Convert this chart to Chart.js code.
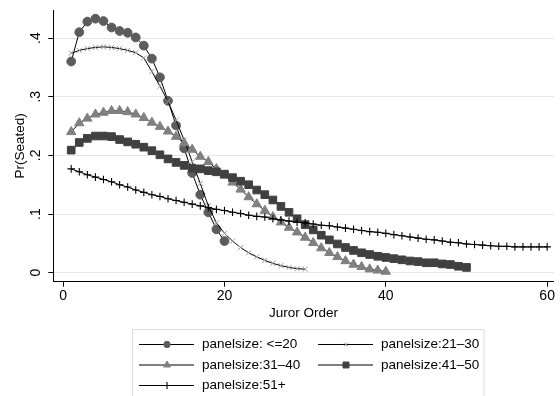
<!DOCTYPE html>
<html>
<head>
<meta charset="utf-8">
<title>Pr(Seated) by Juror Order</title>
<script src="https://cdn.jsdelivr.net/npm/chart.js"></script>
<style>
  html, body { margin: 0; padding: 0; background: #fff; }
  #wrap { width: 560px; height: 396px; }
</style>
</head>
<body>
<div id="wrap"><canvas id="chart" width="560" height="396"></canvas></div>
<script>
'use strict';

/* ── DATA ── */
const jurorOrder = [
  1, 2, 3, 4, 5, 6, 7, 8, 9, 10, 11, 12, 13, 14, 15, 16, 17, 18, 19, 20,
  21, 22, 23, 24, 25, 26, 27, 28, 29, 30, 31, 32, 33, 34, 35, 36, 37, 38, 39, 40,
  41, 42, 43, 44, 45, 46, 47, 48, 49, 50, 51, 52, 53, 54, 55, 56, 57, 58, 59, 60,
];

const seriesLabels = [
  'panelsize: <=20', 'panelsize:21\u201330', 'panelsize:31\u201340',
  'panelsize:41\u201350', 'panelsize:51+',
];

const pUpTo20 = [
  .360, .410, .428, .433, .429, .418, .412, .409, .401, .387,
  .365, .333, .293, .251, .212, .170, .133, .103, .074, .054,
];

const p21to30 = [
  .374, .379, .382, .384, .385, .384, .382, .379, .375, .366,
  .343, .318, .292, .260, .226, .189, .152, .114, .085, .067,
  .054, .043, .034, .027, .021, .016, .012, .009, .007, .006,
];

const p31to40 = [
  .240, .255, .263, .270, .273, .276, .276, .274, .270, .264,
  .256, .249, .241, .232, .221, .210, .198, .189, .177, .166,
  .154, .142, .129, .117, .106, .095, .086, .077, .069, .060,
  .051, .042, .034, .027, .020, .014, .010, .006, .004, .002,
];

const p41to50 = [
  .209, .222, .229, .233, .233, .232, .227, .223, .219, .214,
  .208, .201, .194, .188, .183, .178, .177, .174, .172, .168,
  .162, .156, .150, .141, .133, .124, .113, .103, .092, .082,
  .073, .064, .056, .049, .043, .038, .034, .031, .028, .026,
  .024, .022, .020, .019, .017, .017, .015, .014, .011, .009,
];

const p51plus = [
  .177, .172, .167, .163, .159, .155, .150, .146, .141, .137,
  .133, .130, .126, .123, .120, .117, .114, .111, .108, .106,
  .103, .101, .098, .096, .095, .092, .090, .088, .086, .085,
  .083, .081, .080, .078, .076, .074, .072, .070, .069, .067,
  .065, .063, .061, .059, .057, .056, .054, .052, .051, .049,
  .048, .047, .046, .045, .045, .044, .044, .044, .044, .044,
];

const xTicks = [0, 20, 40, 60];
const yTicks = [0, .1, .2, .3, .4];
const yTickLabels = ['0', '.1', '.2', '.3', '.4'];

/* ── STYLES ── */
const FONT = '"Liberation Sans", Arial, Helvetica, sans-serif';
const markers = [
  { style: 'circle',   radius: 4.4, fill: '#5c5c5c', stroke: '#5c5c5c', lw: 1,   legendR: 3.2 },
  { style: 'crossRot', radius: 3.6, fill: '#9a9a9a', stroke: '#9a9a9a', lw: 1,   legendR: 2.6 },
  { style: 'triangle', radius: 5.4, fill: '#808080', stroke: '#808080', lw: 1,   legendR: 4.0 },
  { style: 'rect',     radius: 5.4, fill: '#404040', stroke: '#404040', lw: 1,   legendR: 4.2 },
  { style: 'cross',    radius: 3.8, fill: '#000',    stroke: '#000',    lw: 1.1, legendR: 3.6 },
];

const seriesValues = [pUpTo20, p21to30, p31to40, p41to50, p51plus];

const datasets = seriesValues.map((vals, i) => ({
  label: seriesLabels[i],
  data: vals.map((v, k) => ({ x: jurorOrder[k], y: v })),
  borderColor: '#000',
  borderWidth: 1,
  tension: 0,
  fill: false,
  pointStyle: markers[i].style,
  pointRadius: markers[i].radius,
  pointBackgroundColor: markers[i].fill,
  pointBorderColor: markers[i].stroke,
  pointBorderWidth: markers[i].lw,
  order: 4 - i,
}));

/* ── CUSTOM DRAWING: y labels, titles, legend ── */
const decorPlugin = {
  id: 'decor',
  afterDraw(chart) {
    const ctx = chart.ctx;
    const ys = chart.scales.y;
    const area = chart.chartArea;

    ctx.save();
    ctx.fillStyle = '#000';

    /* y tick labels, rotated like Stata */
    ctx.font = '14px ' + FONT;
    ctx.textAlign = 'center';
    ctx.textBaseline = 'middle';
    yTicks.forEach((t, i) => {
      const py = ys.getPixelForValue(t);
      ctx.save();
      ctx.translate(36, py);
      ctx.rotate(-Math.PI / 2);
      ctx.fillText(yTickLabels[i], 0, 0);
      ctx.restore();
    });

    /* y title */
    ctx.font = '13.5px ' + FONT;
    ctx.save();
    ctx.translate(20, (area.top + area.bottom) / 2);
    ctx.rotate(-Math.PI / 2);
    ctx.fillText('Pr(Seated)', 0, 0);
    ctx.restore();

    /* x title */
    ctx.fillText('Juror Order', (area.left + area.right) / 2, 313);

    /* legend box */
    ctx.strokeStyle = '#dedede';
    ctx.lineWidth = 1;
    ctx.fillStyle = '#fff';
    ctx.fillRect(132.5, 329.5, 351.5, 80);
    ctx.strokeRect(132.5, 329.5, 351.5, 80);

    const cols = [139, 318];
    const rows = [344.5, 365, 385.5];
    seriesLabels.forEach((lab, i) => {
      const x0 = cols[i % 2];
      const y0 = rows[Math.floor(i / 2)];
      ctx.strokeStyle = '#000';
      ctx.lineWidth = 1;
      ctx.beginPath();
      ctx.moveTo(x0, y0);
      ctx.lineTo(x0 + 55, y0);
      ctx.stroke();
      const m = markers[i];
      ctx.fillStyle = m.fill;
      ctx.strokeStyle = m.stroke;
      ctx.lineWidth = m.lw;
      Chart.helpers.drawPoint(ctx, { pointStyle: m.style, radius: m.legendR, borderWidth: m.lw }, x0 + 28, y0);
      ctx.fillStyle = '#000';
      ctx.font = '13.5px ' + FONT;
      ctx.textAlign = 'left';
      ctx.textBaseline = 'middle';
      ctx.fillText(lab, x0 + 63, y0);
    });

    ctx.restore();
  },
};

/* ── CHART ── */
new Chart(document.getElementById('chart'), {
  type: 'line',
  data: { datasets },
  plugins: [decorPlugin],
  options: {
    responsive: false,
    animation: false,
    devicePixelRatio: 1,
    layout: { padding: { top: 10, right: 0, left: 0, bottom: 0 } },
    plugins: {
      legend: { display: false },
      tooltip: { enabled: false },
    },
    scales: {
      x: {
        type: 'linear',
        min: -1.22,
        max: 60.8,
        afterBuildTicks: s => { s.ticks = xTicks.map(v => ({ value: v })); },
        afterFit: s => { s.height = 114.3; s.paddingLeft = 0; s.paddingRight = 0; },
        grid: { drawOnChartArea: false, drawTicks: true, tickLength: 5, tickColor: '#000' },
        border: { color: '#000', width: 1 },
        ticks: {
          autoSkip: false,
          maxRotation: 0,
          padding: 1,
          color: '#000',
          font: { family: FONT, size: 14 },
        },
      },
      y: {
        type: 'linear',
        min: -0.0153,
        max: 0.4478,
        afterBuildTicks: s => { s.ticks = yTicks.map(v => ({ value: v })); },
        afterFit: s => { s.width = 53.3; s.paddingTop = 0; s.paddingBottom = 0; },
        grid: { color: '#e6e6e6', lineWidth: 1, drawTicks: true, tickLength: 5, tickColor: '#000' },
        border: { color: '#000', width: 1 },
        ticks: { display: false },
      },
    },
  },
});
</script>
</body>
</html>
